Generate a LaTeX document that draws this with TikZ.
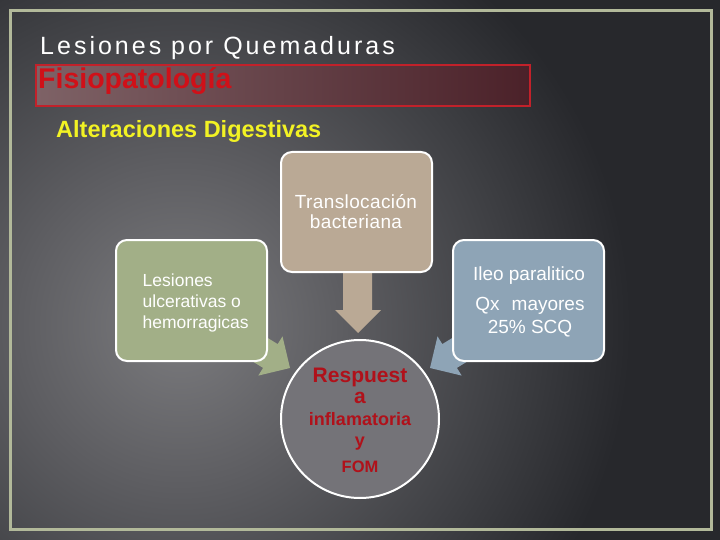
\documentclass[tikz,border=0pt]{standalone}
\usepackage{fontspec}
\setmainfont{Liberation Sans}
\newfontfamily\spacedfont[LetterSpace=12]{Liberation Sans}
\newfontfamily\slightfont[LetterSpace=2]{Liberation Sans}
\definecolor{bgA}{HTML}{7B7B7E}
\definecolor{bgB}{HTML}{5E5E62}
\definecolor{bgC}{HTML}{3E3F43}
\definecolor{bgD}{HTML}{27282C}
\definecolor{framec}{HTML}{B2B99A}
\definecolor{tanc}{HTML}{BAA995}
\definecolor{greenc}{HTML}{A2AF87}
\definecolor{bluec}{HTML}{8EA4B6}
\definecolor{circc}{HTML}{747378}
\definecolor{darkred}{HTML}{B0111A}
\definecolor{titlered}{HTML}{D01018}
\definecolor{boxred}{HTML}{C2212A}
\definecolor{boxl}{HTML}{7E6266}
\definecolor{boxr}{HTML}{4B2129}
\definecolor{yel}{HTML}{F2F224}
\pgfdeclareradialshading{bgshade}{\pgfpoint{0bp}{0bp}}{color(0bp)=(bgA); color(5.7bp)=(bgB); color(11.8bp)=(bgC); color(16.1bp)=(bgD); color(50bp)=(bgD)}
\tikzset{
  card/.style={draw=white, line width=2pt, rounded corners=11pt, minimum width=151pt, inner sep=0pt},
  bubble/.style={circle, draw=white, line width=2pt, fill=circc, minimum size=158pt, inner sep=0pt},
  boxtxt/.style={text=white, inner sep=0pt, font=\fontsize{18}{21}\selectfont},
  circtxt/.style={text=darkred, inner sep=0pt, anchor=base},
}
\begin{document}
\begin{tikzpicture}[x=1pt,y=-1pt]
\useasboundingbox (0,0) rectangle (720,540);
\begin{scope}
  \clip (0,0) rectangle (720,540);
  \fill[bgD] (0,0) rectangle (720,540);
  \fill[shading=bgshade] (180,325) circle (700pt);
\end{scope}
% frame
\draw[framec, line width=3pt] (10.5,11) rectangle (711,529);

% titles
\node[anchor=base west, inner sep=0pt, text=white, font=\spacedfont\fontsize{25}{30}\selectfont] (title) at (40,55) {Lesiones por Quemaduras};
\draw[boxred, line width=2pt, left color=boxl, right color=boxr] (36,65) rectangle (530,106);
\node[anchor=base west, inner sep=0pt, text=titlered, font=\bfseries\fontsize{28.5}{30}\selectfont] (sub) at (38,89) {Fisiopatología};
\node[anchor=base west, inner sep=0pt, text=yel, font=\bfseries\fontsize{23.5}{28}\selectfont] (sect) at (56,138) {Alteraciones Digestivas};

% block arrows (drawn under the boxes)
\fill[tanc] (343,265) -- (372,265) -- (372,310) -- (381,310) -- (358,333) -- (335,310) -- (343,310) -- cycle;
\fill[greenc] (239.4,320.5) -- (277.7,344.1) -- (282.5,336.4) -- (290,368) -- (258.3,375.6) -- (263.1,367.9) -- (224.8,344.3) -- cycle;
\fill[bluec] (480.6,320.5) -- (442.3,344.1) -- (437.5,336.4) -- (430,368) -- (461.7,375.6) -- (456.9,367.9) -- (495.2,344.3) -- cycle;

% boxes
\node[card, fill=tanc, minimum height=120pt] (trans) at (356.5,212) {};
\node[card, fill=greenc, minimum height=121pt] (lesion) at (191.5,300.5) {};
\node[card, fill=bluec, minimum height=121pt] (ileo) at (528.5,300.5) {};
\node[bubble] (resp) at (360,419) {};

% box texts
\node[boxtxt, anchor=base, font=\slightfont\fontsize{19}{22}\selectfont] (tr1) at (356,208) {Translocación};
\node[boxtxt, anchor=base, font=\slightfont\fontsize{19}{22}\selectfont] (tr2) at (356,229) {bacteriana};

\node[boxtxt, anchor=base west, font=\fontsize{17.5}{21}\selectfont] (le1) at (142.5,286) {Lesiones};
\node[boxtxt, anchor=base west, font=\fontsize{17.5}{21}\selectfont] (le2) at (142.5,307) {ulcerativas o};
\node[boxtxt, anchor=base west, font=\fontsize{17.5}{21}\selectfont] (le3) at (142.5,328) {hemorragicas};

\node[boxtxt, anchor=base, font=\fontsize{19}{22}\selectfont] (il1) at (529,280) {Ileo paralitico};
\node[boxtxt, anchor=base, font=\fontsize{19}{22}\selectfont] (il2) at (530,310) {Qx\hspace{12pt}mayores};
\node[boxtxt, anchor=base, font=\fontsize{19}{22}\selectfont] (il3) at (530,333) {25\% SCQ};

% circle texts
\node[circtxt, font=\bfseries\fontsize{21}{24}\selectfont] (c1) at (360,382) {Respuest};
\node[circtxt, font=\bfseries\fontsize{21}{24}\selectfont] (c2) at (360,403) {a};
\node[circtxt, font=\bfseries\fontsize{18}{21}\selectfont] (c3) at (360,425) {inflamatoria};
\node[circtxt, font=\bfseries\fontsize{18}{21}\selectfont] (c4) at (360,446) {y};
\node[circtxt, font=\bfseries\fontsize{16.5}{20}\selectfont] (c5) at (360,472) {FOM};
\end{tikzpicture}
\end{document}
